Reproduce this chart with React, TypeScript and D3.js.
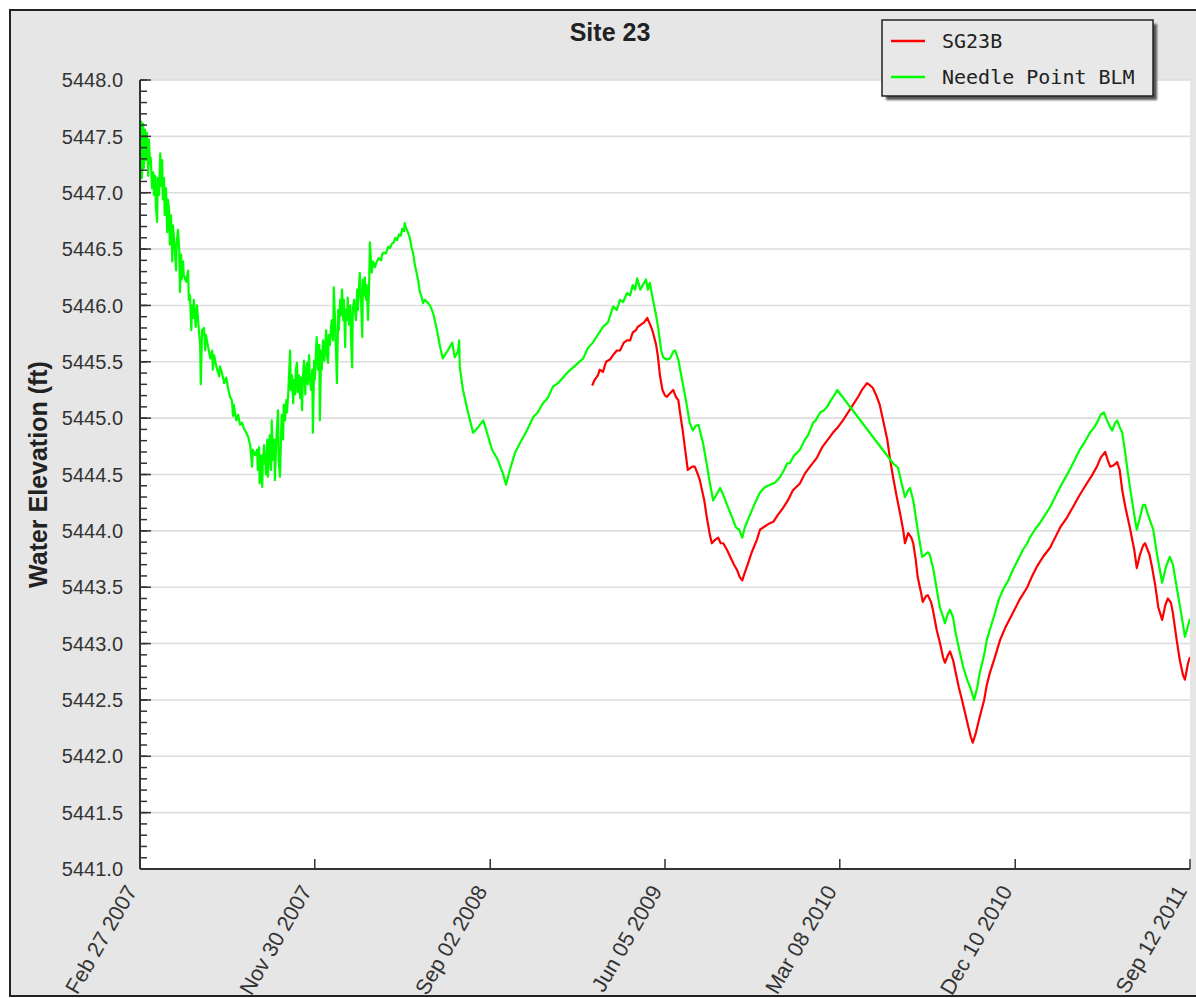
import React from "react";
import * as d3 from "d3";

// ---- data (day offsets from record start, water elevation in ft) ----
const RECORD_START = new Date(2007, 1, 27);
const RECORD_END = new Date(2011, 8, 12);

const chartTitle = "Site 23";
const yAxisTitle = "Water Elevation (ft)";
const seriesNames = ["SG23B", "Needle Point BLM"];
const seriesColors = ["#ff0000", "#00ff00"];

const xTickDates = [
  new Date(2007, 1, 27),
  new Date(2007, 10, 30),
  new Date(2008, 8, 2),
  new Date(2009, 5, 5),
  new Date(2010, 2, 8),
  new Date(2010, 11, 10),
  new Date(2011, 8, 12),
];

const yDomain = [5441.0, 5448.0];
const yMajorStep = 0.5;
const yMinorStep = 0.1;

const needlePointBLM: [number, number][] = [
  [0,5447.38],[2,5447.63],[3,5447.13],[5,5447.61],[6,5447.22],[8,5447.56],[9,5447.29],[11,5447.53],[13,5447.15],[14,5447.47],
  [16,5447.25],[17,5447.31],[19,5447.04],[21,5447.18],[22,5446.98],[24,5447.15],[25,5446.89],[27,5446.74],[28,5447.13],[30,5446.98],
  [32,5447.35],[33,5447.06],[35,5447.29],[36,5446.94],[38,5447.13],[39,5446.80],[41,5447.04],[43,5446.65],[44,5446.94],[46,5446.85],
  [47,5446.54],[49,5446.80],[51,5446.39],[52,5446.71],[54,5446.58],[57,5446.31],[58,5446.56],[60,5446.67],[62,5446.49],[63,5446.12],
  [65,5446.45],[66,5446.23],[68,5446.39],[69,5446.27],[73,5446.21],[76,5446.31],[77,5446.05],[79,5446.09],[81,5445.78],[82,5446.00],
  [84,5445.89],[85,5446.05],[88,5445.81],[90,5446.00],[93,5445.78],[95,5445.65],[96,5445.30],[98,5445.78],[101,5445.80],[103,5445.60],
  [104,5445.74],[107,5445.65],[111,5445.53],[114,5445.60],[115,5445.43],[117,5445.56],[120,5445.47],[125,5445.37],[126,5445.46],[129,5445.41],
  [133,5445.31],[136,5445.36],[139,5445.27],[142,5445.19],[145,5445.16],[147,5445.02],[148,5445.12],[152,5444.98],[155,5445.03],[158,5444.94],
  [161,5444.96],[164,5444.91],[167,5444.88],[171,5444.83],[174,5444.76],[177,5444.57],[178,5444.72],[182,5444.67],[185,5444.72],[186,5444.54],
  [188,5444.74],[189,5444.42],[191,5444.67],[193,5444.39],[194,5444.63],[196,5444.76],[197,5444.66],[199,5444.50],[201,5444.81],[202,5444.48],
  [204,5444.72],[205,5444.85],[207,5444.54],[208,5444.98],[210,5444.63],[212,5444.81],[213,5444.45],[215,5444.76],[216,5444.89],[218,5445.07],
  [219,5444.63],[221,5444.48],[223,5444.89],[224,5445.03],[226,5444.81],[227,5445.12],[229,5444.98],[231,5445.16],[232,5445.05],[234,5445.21],
  [235,5445.34],[237,5445.60],[238,5445.25],[240,5445.38],[242,5445.13],[243,5445.34],[245,5445.21],[246,5445.43],[248,5445.49],[249,5445.23],
  [251,5445.38],[253,5445.18],[254,5445.36],[256,5445.07],[257,5445.34],[259,5445.51],[261,5445.21],[262,5445.41],[264,5445.49],[265,5445.30],
  [267,5445.56],[268,5445.38],[270,5445.25],[272,5445.43],[273,5444.87],[275,5445.51],[276,5445.34],[278,5445.60],[279,5445.72],[281,5445.43],
  [283,5445.65],[284,5444.98],[286,5445.60],[287,5445.43],[289,5445.69],[291,5445.51],[292,5445.60],[294,5445.78],[295,5445.56],[297,5445.49],
  [298,5445.74],[300,5445.65],[302,5445.83],[303,5445.87],[305,5445.69],[306,5446.16],[308,5445.87],[309,5445.69],[311,5445.31],[313,5445.96],
  [314,5445.78],[316,5446.05],[317,5445.91],[319,5446.14],[321,5445.87],[322,5446.05],[324,5445.63],[325,5445.96],[327,5445.87],[328,5446.07],
  [330,5445.83],[332,5446.00],[333,5445.74],[335,5445.45],[336,5445.96],[338,5446.05],[341,5445.87],[343,5446.14],[344,5445.96],[346,5446.18],
  [347,5446.29],[349,5446.05],[351,5445.72],[352,5446.23],[354,5446.09],[355,5446.25],[357,5446.05],[358,5446.18],[360,5445.87],[362,5446.23],
  [363,5446.56],[365,5446.36],[366,5446.29],[368,5446.39],[371,5446.34],[374,5446.39],[377,5446.42],[381,5446.40],[382,5446.45],[385,5446.47],
  [388,5446.46],[392,5446.52],[395,5446.51],[398,5446.55],[401,5446.56],[403,5446.60],[406,5446.58],[409,5446.63],[412,5446.62],[414,5446.68],
  [417,5446.66],[418,5446.73],[420,5446.69],[423,5446.65],[426,5446.60],[429,5446.51],[431,5446.47],[434,5446.36],[439,5446.23],[442,5446.12],
  [445,5446.07],[447,5446.02],[450,5446.05],[458,5446.00],[463,5445.93],[469,5445.78],[474,5445.63],[478,5445.53],[486,5445.60],[493,5445.67],
  [497,5445.54],[502,5445.59],[504,5445.69],[505,5445.45],[510,5445.25],[518,5445.05],[526,5444.87],[534,5444.92],[542,5444.98],[548,5444.87],
  [556,5444.72],[565,5444.63],[573,5444.51],[578,5444.41],[584,5444.54],[592,5444.69],[600,5444.78],[611,5444.89],[621,5445.01],[628,5445.05],
  [636,5445.13],[644,5445.18],[652,5445.28],[660,5445.31],[668,5445.36],[676,5445.41],[684,5445.45],[692,5445.49],[700,5445.53],[707,5445.62],
  [715,5445.67],[723,5445.74],[731,5445.81],[739,5445.85],[747,5445.99],[753,5445.96],[758,5446.05],[763,5446.03],[769,5446.11],[774,5446.09],
  [778,5446.18],[782,5446.14],[785,5446.24],[790,5446.14],[794,5446.18],[799,5446.23],[802,5446.14],[805,5446.20],[810,5446.05],[815,5445.91],
  [818,5445.81],[823,5445.60],[826,5445.54],[832,5445.52],[837,5445.53],[842,5445.59],[845,5445.60],[850,5445.52],[853,5445.43],[857,5445.31],
  [862,5445.16],[868,5444.96],[873,5444.89],[877,5444.93],[882,5444.94],[889,5444.78],[895,5444.59],[900,5444.42],[905,5444.27],[909,5444.31],
  [916,5444.38],[921,5444.32],[927,5444.23],[935,5444.12],[941,5444.03],[946,5444.01],[951,5443.94],[955,5444.03],[960,5444.10],[966,5444.18],
  [973,5444.27],[979,5444.34],[987,5444.39],[995,5444.41],[1003,5444.43],[1011,5444.48],[1017,5444.54],[1022,5444.60],[1026,5444.60],[1033,5444.67],
  [1037,5444.69],[1042,5444.72],[1050,5444.81],[1055,5444.85],[1063,5444.96],[1067,5444.98],[1074,5445.05],[1080,5445.07],[1085,5445.10],[1091,5445.16],
  [1096,5445.20],[1101,5445.25],
  [1189,5444.60],[1197,5444.56],[1203,5444.41],[1208,5444.30],[1213,5444.36],[1216,5444.38],[1221,5444.27],[1224,5444.16],[1228,5444.01],[1235,5443.77],
  [1240,5443.79],[1244,5443.81],[1247,5443.79],[1252,5443.68],[1257,5443.52],[1263,5443.32],[1268,5443.24],[1271,5443.18],[1276,5443.27],[1279,5443.30],
  [1284,5443.23],[1287,5443.12],[1293,5442.96],[1300,5442.79],[1306,5442.68],[1311,5442.61],[1317,5442.50],[1322,5442.61],[1326,5442.74],[1333,5442.90],
  [1337,5443.03],[1344,5443.16],[1350,5443.27],[1356,5443.39],[1363,5443.48],[1371,5443.56],[1378,5443.65],[1386,5443.74],[1394,5443.83],[1401,5443.89],
  [1405,5443.94],[1413,5444.01],[1421,5444.07],[1429,5444.14],[1437,5444.21],[1445,5444.30],[1453,5444.39],[1461,5444.47],[1468,5444.54],[1476,5444.63],
  [1484,5444.72],[1492,5444.79],[1500,5444.87],[1507,5444.92],[1513,5444.98],[1517,5445.03],[1522,5445.05],[1527,5444.98],[1532,5444.92],[1535,5444.89],
  [1540,5444.96],[1543,5444.98],[1547,5444.92],[1551,5444.87],[1555,5444.72],[1560,5444.51],[1565,5444.32],[1570,5444.14],[1574,5444.01],[1579,5444.12],
  [1584,5444.23],[1587,5444.23],[1592,5444.14],[1600,5444.01],[1606,5443.79],[1614,5443.54],[1620,5443.68],[1626,5443.77],[1631,5443.70],[1637,5443.50],
  [1644,5443.27],[1650,5443.06],[1655,5443.16],[1658,5443.22],
];

const sg23b: [number, number][] = [
  [714,5445.29],[718,5445.34],[723,5445.38],[726,5445.43],[731,5445.41],[736,5445.50],[742,5445.52],[747,5445.56],[753,5445.60],[758,5445.60],
  [764,5445.67],[769,5445.69],[774,5445.69],[778,5445.76],[783,5445.78],[786,5445.81],[791,5445.83],[796,5445.85],[801,5445.89],[804,5445.85],
  [807,5445.81],[810,5445.76],[815,5445.65],[818,5445.54],[821,5445.38],[825,5445.25],[829,5445.20],[832,5445.19],[837,5445.22],[842,5445.25],
  [846,5445.19],[850,5445.16],[854,5445.00],[857,5444.89],[862,5444.67],[865,5444.54],[872,5444.57],[876,5444.57],[881,5444.50],[884,5444.45],
  [891,5444.27],[895,5444.12],[900,5443.96],[903,5443.89],[908,5443.92],[913,5443.94],[917,5443.89],[921,5443.89],[927,5443.83],[932,5443.77],
  [938,5443.70],[943,5443.65],[947,5443.59],[951,5443.56],[955,5443.63],[960,5443.71],[966,5443.81],[974,5443.92],[979,5444.01],[984,5444.03],
  [992,5444.06],[1000,5444.08],[1007,5444.14],[1015,5444.20],[1023,5444.27],[1031,5444.36],[1042,5444.42],[1050,5444.51],[1058,5444.57],[1069,5444.65],
  [1077,5444.74],[1085,5444.80],[1094,5444.87],[1102,5444.92],[1110,5444.98],[1118,5445.05],[1126,5445.12],[1134,5445.19],[1140,5445.25],[1148,5445.31],
  [1153,5445.29],[1157,5445.27],[1162,5445.21],[1168,5445.12],[1175,5444.94],[1180,5444.81],[1184,5444.65],[1189,5444.48],[1195,5444.30],[1200,5444.16],
  [1205,5444.01],[1208,5443.89],[1213,5443.98],[1218,5443.94],[1221,5443.89],[1225,5443.74],[1228,5443.59],[1233,5443.46],[1236,5443.37],[1241,5443.42],
  [1244,5443.43],[1249,5443.37],[1252,5443.30],[1258,5443.12],[1263,5443.01],[1268,5442.88],[1271,5442.83],[1276,5442.90],[1279,5442.93],[1284,5442.85],
  [1287,5442.77],[1293,5442.61],[1298,5442.50],[1303,5442.38],[1308,5442.26],[1312,5442.17],[1315,5442.12],[1320,5442.21],[1326,5442.35],[1333,5442.50],
  [1337,5442.63],[1342,5442.74],[1350,5442.88],[1358,5443.03],[1367,5443.15],[1378,5443.27],[1389,5443.39],[1401,5443.50],[1408,5443.59],[1416,5443.68],
  [1426,5443.77],[1437,5443.85],[1445,5443.94],[1453,5444.03],[1464,5444.12],[1473,5444.21],[1484,5444.32],[1495,5444.42],[1503,5444.49],[1511,5444.57],
  [1517,5444.65],[1524,5444.70],[1528,5444.63],[1532,5444.57],[1537,5444.58],[1543,5444.61],[1547,5444.54],[1551,5444.36],[1556,5444.21],[1563,5444.03],
  [1570,5443.83],[1574,5443.67],[1579,5443.79],[1584,5443.87],[1587,5443.89],[1594,5443.79],[1598,5443.68],[1603,5443.52],[1608,5443.32],[1614,5443.21],
  [1619,5443.34],[1623,5443.40],[1628,5443.36],[1631,5443.27],[1637,5443.03],[1642,5442.85],[1647,5442.72],[1650,5442.68],[1655,5442.83],[1658,5442.88],
];

// ---- layout ----
const W = 1196;
const H = 998;
const plot = { left: 140, top: 80, right: 1190, bottom: 869 };
const SANS = "'Liberation Sans', Arial, Helvetica, sans-serif";
const MONO = "'DejaVu Sans Mono', 'Liberation Mono', monospace";

export default function App() {
  const x = d3.scaleTime().domain([RECORD_START, RECORD_END]).range([plot.left, plot.right]);
  const y = d3.scaleLinear().domain(yDomain).range([plot.bottom, plot.top]);
  const toDate = (d: number) => d3.timeDay.offset(RECORD_START, d);
  const line = d3
    .line<[number, number]>()
    .x((p) => x(toDate(p[0])))
    .y((p) => y(p[1]));

  const majors = d3.range(yDomain[0], yDomain[1] + 1e-6, yMajorStep);
  const minors = d3.range(yDomain[0], yDomain[1] + 1e-6, yMinorStep);
  const fmtY = d3.format(".1f");
  const fmtX = d3.timeFormat("%b %d %Y");

  const series = [sg23b, needlePointBLM];

  return (
    <svg
      width={W}
      height={H}
      style={{ position: "absolute", left: 0, top: 0, display: "block" }}
    >
      <defs>
        <clipPath id="plotclip">
          <rect x={plot.left} y={plot.top} width={plot.right - plot.left} height={plot.bottom - plot.top} />
        </clipPath>
        <filter id="shadowblur" x="-10%" y="-20%" width="120%" height="140%">
          <feGaussianBlur stdDeviation="1.2" />
        </filter>
      </defs>
      <rect x={0} y={0} width={W} height={H} fill="#ffffff" />
      <rect x={10} y={10} width={1215} height={986} fill="#e6e6e6" stroke="#222" strokeWidth={2} />
      <rect
        x={plot.left}
        y={plot.top}
        width={plot.right - plot.left}
        height={plot.bottom - plot.top}
        fill="#ffffff"
      />
      {/* grid */}
      {majors.map((v) => (
        <line key={"g" + v} x1={plot.left} x2={plot.right} y1={y(v)} y2={y(v)} stroke="#dddddd" strokeWidth={1.6} />
      ))}
      {/* series */}
      <g clipPath="url(#plotclip)">
        {series.map((s, i) => (
          <path key={i} d={line(s) || ""} fill="none" stroke={seriesColors[i]} strokeWidth={2.2} strokeLinejoin="round" />
        ))}
      </g>
      {/* y axis */}
      <line x1={plot.left} x2={plot.left} y1={plot.top} y2={plot.bottom} stroke="#333" strokeWidth={2} />
      {minors.map((v) => (
        <line key={"m" + v} x1={plot.left} x2={plot.left + 7} y1={y(v)} y2={y(v)} stroke="#333" strokeWidth={1.5} />
      ))}
      {majors.map((v) => (
        <g key={"t" + v}>
          <line x1={plot.left} x2={plot.left + 11} y1={y(v)} y2={y(v)} stroke="#333" strokeWidth={1.5} />
          <text
            x={123}
            y={y(v)}
            dy="0.36em"
            textAnchor="end"
            fontFamily={SANS}
            fontSize={20}
            fill="#333"
          >
            {fmtY(v)}
          </text>
        </g>
      ))}
      <text
        transform={`translate(47,${(plot.top + plot.bottom) / 2}) rotate(-90)`}
        textAnchor="middle"
        fontFamily={SANS}
        fontWeight="bold"
        fontSize={25}
        fill="#222"
      >
        {yAxisTitle}
      </text>
      {/* x axis */}
      <line x1={plot.left} x2={plot.right} y1={plot.bottom} y2={plot.bottom} stroke="#333" strokeWidth={2} />
      {xTickDates.map((d, i) => (
        <g key={"x" + i}>
          <line x1={x(d)} x2={x(d)} y1={plot.bottom} y2={plot.bottom - 10} stroke="#333" strokeWidth={1.5} />
          <text
            transform={`translate(${x(d) - 9},${plot.bottom + 18}) rotate(-60)`}
            dy="0.36em"
            textAnchor="end"
            fontFamily={SANS}
            fontSize={21.5}
            fill="#333"
          >
            {fmtX(d)}
          </text>
        </g>
      ))}
      {/* title */}
      <text x={610} y={41} textAnchor="middle" fontFamily={SANS} fontWeight="bold" fontSize={25} fill="#222">
        {chartTitle}
      </text>
      {/* legend */}
      <rect x={886} y={24} width={271} height={76} fill="#555" filter="url(#shadowblur)" />
      <rect x={882} y={20} width={271} height={76} fill="#e8e8e8" stroke="#222" strokeWidth={1.5} />
      {seriesNames.map((name, i) => (
        <g key={name}>
          <line x1={891} x2={925} y1={41 + i * 36} y2={41 + i * 36} stroke={seriesColors[i]} strokeWidth={2.5} />
          <text x={942} y={41 + i * 36} dy="0.36em" fontFamily={MONO} fontSize={20} fill="#222">
            {name}
          </text>
        </g>
      ))}
    </svg>
  );
}
